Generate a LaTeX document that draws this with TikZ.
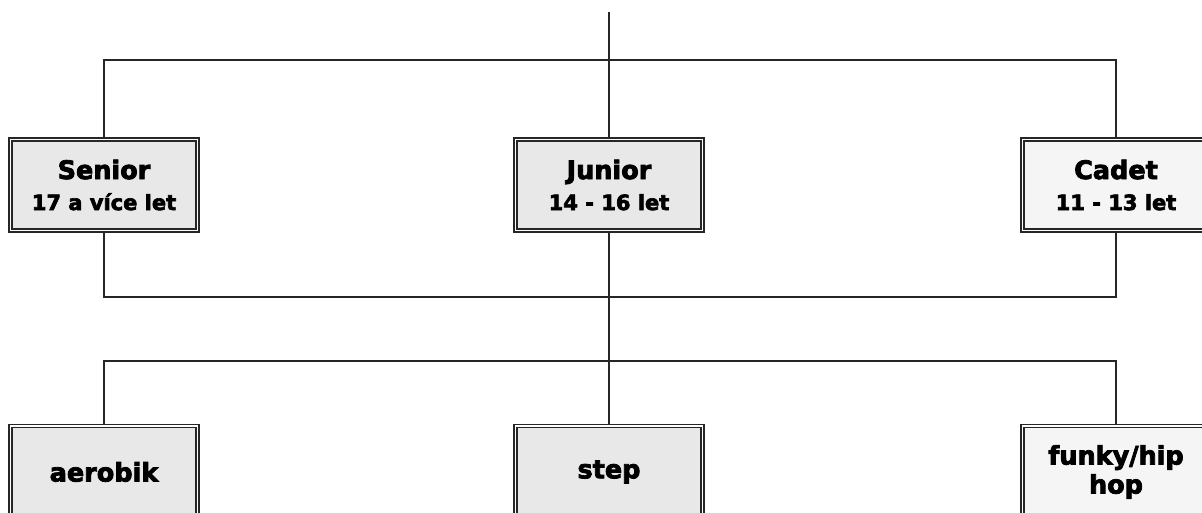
\documentclass[tikz,border=0pt]{standalone}
\usepackage{fontspec}
\setmainfont{DejaVu Sans}[BoldFeatures={FakeBold=3}]
\tikzset{
  catbox/.style={draw=black!85, line width=1.4pt, double=white, double distance=1.8pt,
    minimum width=187pt, minimum height=91pt, inner sep=0pt, outer sep=2.3pt,
    align=center, font=\bfseries\fontsize{21}{31}\selectfont},
  discbox/.style={catbox, minimum height=92pt, font=\bfseries\fontsize{25.5}{29}\selectfont},
  darkfill/.style={fill=black!9},
  lightfill/.style={fill=black!4},
  conn/.style={draw=black!85, line width=1.7pt}
}
\newcommand{\nm}[1]{{\fontsize{25.5}{31}\selectfont #1}}
\begin{document}
\begin{tikzpicture}[x=1pt,y=-1pt]
\useasboundingbox (0,0) rectangle (1202,513);
\node[catbox,darkfill] (senior) at (104,185) {\nm{Senior}\\17 a více let};
\node[catbox,darkfill] (junior) at (609,185) {\nm{Junior}\\14 - 16 let};
\node[catbox,lightfill] (cadet) at (1116,185) {\nm{Cadet}\\11 - 13 let};
\node[discbox,darkfill] (aerobik) at (104,472) {aerobik};
\node[discbox,darkfill] (step) at (609,472) {step};
\node[discbox,lightfill] (funky) at (1116,472) {funky/hip\\hop};
\coordinate (top) at (609,12);
\coordinate (h1) at (609,60);
\coordinate (h2) at (609,297);
\coordinate (h3) at (609,361);
\draw[conn] (top) -- (junior.north);
\draw[conn] (senior.north) -- (senior.north |- h1) -- (cadet.north |- h1) -- (cadet.north);
\draw[conn] (senior.south) -- (senior.south |- h2) -- (cadet.south |- h2) -- (cadet.south);
\draw[conn] (junior.south) -- (step.north);
\draw[conn] (aerobik.north) -- (aerobik.north |- h3) -- (funky.north |- h3) -- (funky.north);
\end{tikzpicture}
\end{document}
